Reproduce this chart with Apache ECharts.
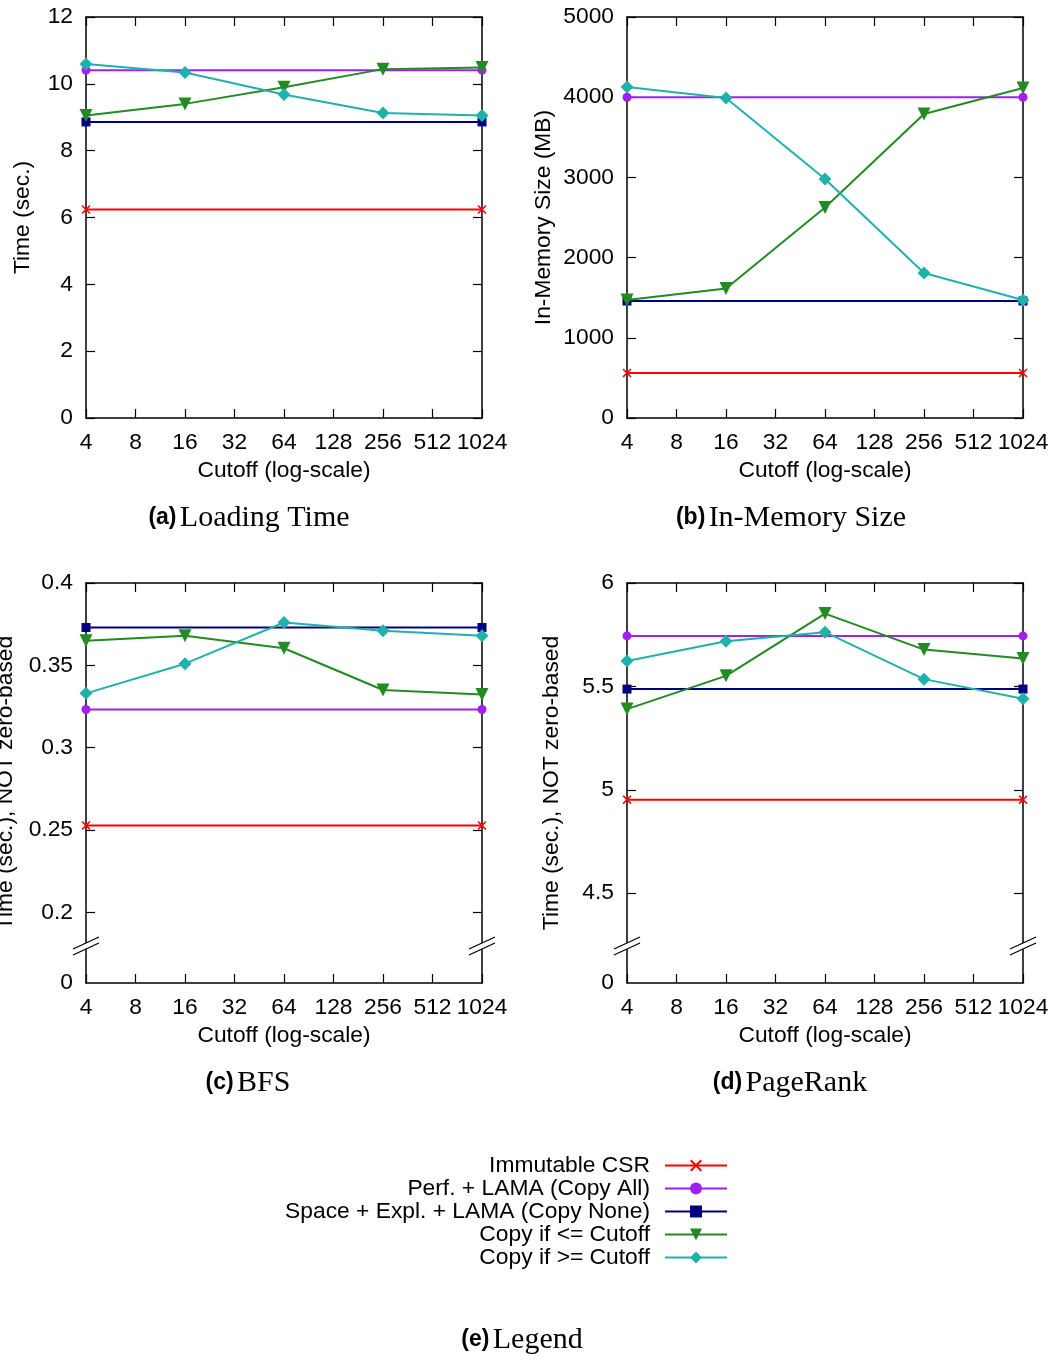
<!DOCTYPE html>
<html><head><meta charset="utf-8">
<script src="https://cdn.jsdelivr.net/npm/echarts@6/dist/echarts.min.js"></script>
<style>html,body{margin:0;padding:0;background:#fff}#c{width:1055px;height:1361px}</style>
</head><body><div id="c"></div>
<script>
// ---------------- data ----------------
const cutoffs = [4, 16, 64, 256, 1024];
const baselineX = [4, 1024];
const seriesNames = ['Immutable CSR', 'Perf. + LAMA (Copy All)', 'Space + Expl. + LAMA (Copy None)', 'Copy if <= Cutoff', 'Copy if >= Cutoff'];
const captionTags = ['(a)', '(b)', '(c)', '(d)', '(e)'];
const captionTexts = ['Loading Time', 'In-Memory Size', 'BFS', 'PageRank', 'Legend'];
const yNames = ['Time (sec.)', 'In-Memory Size (MB)', 'Time (sec.), NOT zero-based', 'Time (sec.), NOT zero-based'];
const xName = 'Cutoff (log-scale)';

// baselines: [Immutable CSR, Perf. + LAMA, Space + Expl. + LAMA]
const loadBaselines = [6.24, 10.41, 8.86];
const loadCopyLE = [9.05, 9.40, 9.90, 10.44, 10.49];
const loadCopyGE = [10.59, 10.34, 9.68, 9.13, 9.05];

const memBaselines = [561, 4000, 1459];
const memCopyLE = [1471, 1615, 2625, 3791, 4115];
const memCopyGE = [4127, 3990, 2980, 1808, 1471];

const bfsBaselines = [0.2528, 0.3232, 0.373];
const bfsCopyLE = [0.365, 0.368, 0.3604, 0.335, 0.3323];
const bfsCopyGE = [0.333, 0.351, 0.376, 0.371, 0.368];

const prBaselines = [4.952, 5.744, 5.487];
const prCopyLE = [5.390, 5.551, 5.852, 5.678, 5.635];
const prCopyGE = [5.623, 5.718, 5.762, 5.535, 5.440];

// y tick labels
const yTicksLoad = [0, 2, 4, 6, 8, 10, 12];
const yTicksMem = [0, 1000, 2000, 3000, 4000, 5000];
const yTicksBfs = [0.2, 0.25, 0.3, 0.35, 0.4];
const yTicksPr = [4.5, 5, 5.5, 6];

// ---------------- layout / style ----------------
const FONT = "'Liberation Sans', Arial, sans-serif";
const FS = 22.8;
const colors = ['#ff0000', '#a020f0', '#000080', '#228b22', '#20b2aa'];
const crossPath = 'path://M0,1.2L1.2,0L5,3.8L8.8,0L10,1.2L6.2,5L10,8.8L8.8,10L5,6.2L1.2,10L0,8.8L3.8,5Z';
const symbols = [crossPath, 'circle', 'rect', 'triangle', 'diamond'];
const symbolSizes = [9, 9, 9, 13, 13];
const symbolRotates = [0, 0, 0, 180, 0];

const grids = [
  {left: 86, top: 17, width: 396, height: 401},
  {left: 627, top: 17, width: 396, height: 401},
  {left: 86, top: 583, width: 396, height: 400},
  {left: 627, top: 583, width: 396, height: 400}
];
// axis floor values for the broken axes (bottom edge labelled "0")
const bfsFloor = 0.1571, prFloor = 4.0654;
const yAxisSpecs = [
  {min: 0, max: 12, ticks: yTicksLoad, gap: 52},
  {min: 0, max: 5000, ticks: yTicksMem, gap: 72},
  {min: bfsFloor, max: 0.4, ticks: yTicksBfs, gap: 69, broken: true},
  {min: prFloor, max: 6, ticks: yTicksPr, gap: 64, broken: true}
];
const panels = [
  [loadBaselines, loadCopyLE, loadCopyGE],
  [memBaselines, memCopyLE, memCopyGE],
  [bfsBaselines, bfsCopyLE, bfsCopyGE],
  [prBaselines, prCopyLE, prCopyGE]
];

const tickStyle = {show: true, inside: true, length: 9, lineStyle: {color: '#000', width: 1.2}};
const lineStyleAxis = {show: true, onZero: false, lineStyle: {color: '#000', width: 1.5}};

const xAxes = [], yAxes = [], series = [];
grids.forEach((g, i) => {
  const xBase = {
    type: 'log', logBase: 2, min: 4, max: 1024, interval: 1, gridIndex: i,
    axisLine: lineStyleAxis, axisTick: tickStyle, splitLine: {show: false}, minorTick: {show: false}
  };
  xAxes[i] = Object.assign({}, xBase, {
    position: 'bottom',
    name: xName, nameLocation: 'middle', nameGap: 41,
    nameTextStyle: {fontFamily: FONT, fontSize: FS, color: '#000'},
    axisLabel: {show: true, fontFamily: FONT, fontSize: FS, color: '#000', margin: 13,
      formatter: v => String(Math.round(v))}
  });
  xAxes[i + 4] = Object.assign({}, xBase, {position: 'top', axisLabel: {show: false}});
  const s = yAxisSpecs[i];
  const yBase = {
    type: 'value', min: s.min, max: s.max, gridIndex: i,
    axisLine: lineStyleAxis, splitLine: {show: false}
  };
  const labelVals = s.broken ? [s.min].concat(s.ticks) : s.ticks;
  const fmt = v => (s.broken && v < s.ticks[0] - 1e-6) ? '0' : String(v);
  yAxes[i] = Object.assign({}, yBase, {
    position: 'left',
    name: yNames[i], nameLocation: 'middle', nameRotate: 90, nameGap: s.gap,
    nameTextStyle: {fontFamily: FONT, fontSize: FS, color: '#000'},
    axisTick: Object.assign({}, tickStyle, {customValues: s.ticks}),
    axisLabel: {show: true, fontFamily: FONT, fontSize: FS, color: '#000', margin: 13,
      customValues: labelVals, formatter: fmt}
  });
  yAxes[i + 4] = Object.assign({}, yBase, {
    position: 'right',
    axisTick: Object.assign({}, tickStyle, {customValues: s.ticks}),
    axisLabel: {show: false, customValues: s.ticks}
  });
  const [base, le, ge] = panels[i];
  const mk = (k, data) => ({
    type: 'line', name: seriesNames[k], xAxisIndex: i, yAxisIndex: i,
    data: data, clip: false, showSymbol: true, showAllSymbol: true,
    symbol: symbols[k], symbolSize: symbolSizes[k], symbolRotate: symbolRotates[k],
    itemStyle: {color: colors[k]}, lineStyle: {color: colors[k], width: 2},
    emphasis: {disabled: true}, z: 3 + k
  });
  for (let k = 0; k < 3; k++) series.push(mk(k, baselineX.map(x => [x, base[k]])));
  series.push(mk(3, cutoffs.map((x, j) => [x, le[j]])));
  series.push(mk(4, cutoffs.map((x, j) => [x, ge[j]])));
});

// captions
const capPos = [[249, 518], [791, 518], [248, 1083], [790, 1083], [522, 1340]];
const graphics = capPos.map((p, i) => ({
  type: 'text', x: p[0], y: p[1], z: 100,
  style: {
    text: '{b|' + captionTags[i] + '} {s|' + captionTexts[i] + '}',
    align: 'center', verticalAlign: 'middle', fill: '#000',
    rich: {
      b: {fontFamily: "'Liberation Sans Narrow', " + FONT, fontWeight: 'bold', fontSize: 23, fill: '#000'},
      s: {fontFamily: "'Liberation Serif', 'Times New Roman', serif", fontSize: 30, fill: '#000'}
    }
  }
}));
// axis break marks for panels (c) and (d)
[2, 3].forEach(i => {
  const g = grids[i];
  const by = g.top + g.height - 35;
  [g.left, g.left + g.width].forEach(ax => {
    graphics.push({type: 'polygon', z: 100, shape: {points: [[ax - 13, by + 7], [ax + 13, by - 5], [ax + 13, by - 11], [ax - 13, by + 1]]},
      style: {fill: '#fff'}});
    [1, 7].forEach(d => graphics.push({type: 'line', z: 101,
      shape: {x1: ax - 13, y1: by + d, x2: ax + 13, y2: by + d - 12}, style: {stroke: '#000', lineWidth: 1.3}}));
  });
});

const chart = echarts.init(document.getElementById('c'), null, {renderer: 'canvas'});
chart.setOption({
  animation: false,
  backgroundColor: '#fff',
  grid: grids.map(g => Object.assign({show: false, containLabel: false, outerBoundsMode: 'none'}, g)),
  xAxis: xAxes, yAxis: yAxes, series: series,
  legend: {
    orient: 'vertical', align: 'right', right: 327, top: 1154, padding: 0,
    itemWidth: 62, itemHeight: 15, itemGap: 0, selectedMode: false,
    data: seriesNames,
    textStyle: {fontFamily: FONT, fontSize: FS, color: '#000', lineHeight: 23, padding: [0, 10, 0, 0]}
  },
  graphic: graphics
});
</script></body></html>
